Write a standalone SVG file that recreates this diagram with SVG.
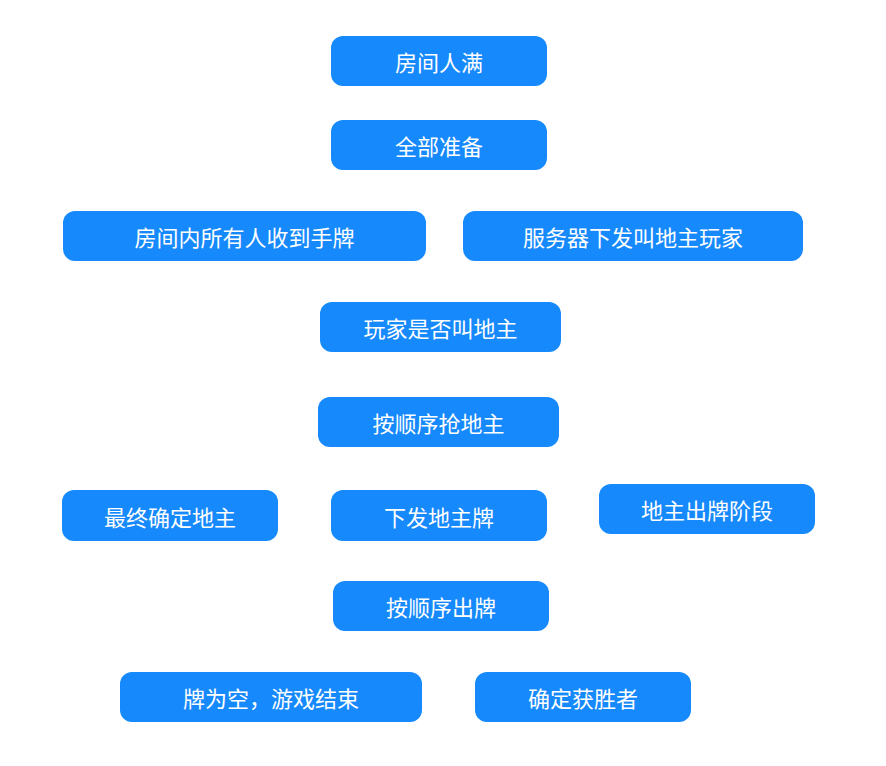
<svg xmlns="http://www.w3.org/2000/svg" width="886" height="766" viewBox="0 0 886 766">
<style>
.n rect{fill:#1689fc;}
.n text{fill:#fff;font-family:"Noto Sans CJK SC","Noto Sans",sans-serif;font-size:22px;text-anchor:middle;dominant-baseline:central;}
</style>
<rect width="886" height="766" fill="#fff"/>
<g id="connectors"></g>
<g id="n1" class="n"><rect x="331" y="36" width="216" height="50" rx="12"/><text x="439" y="61">房间人满</text></g>
<g id="n2" class="n"><rect x="331" y="120" width="216" height="50" rx="12"/><text x="439" y="145">全部准备</text></g>
<g id="n3" class="n"><rect x="63" y="211" width="363" height="50" rx="12"/><text x="244.5" y="236">房间内所有人收到手牌</text></g>
<g id="n4" class="n"><rect x="463" y="211" width="340" height="50" rx="12"/><text x="633" y="236">服务器下发叫地主玩家</text></g>
<g id="n5" class="n"><rect x="320" y="302" width="241" height="50" rx="12"/><text x="440.5" y="327">玩家是否叫地主</text></g>
<g id="n6" class="n"><rect x="318" y="397" width="241" height="50" rx="12"/><text x="438.5" y="422">按顺序抢地主</text></g>
<g id="n7" class="n"><rect x="62" y="490" width="216" height="51" rx="12"/><text x="170" y="515.5">最终确定地主</text></g>
<g id="n8" class="n"><rect x="331" y="490" width="216" height="51" rx="12"/><text x="439" y="515.5">下发地主牌</text></g>
<g id="n9" class="n"><rect x="599" y="484" width="216" height="50" rx="12"/><text x="707" y="509">地主出牌阶段</text></g>
<g id="n10" class="n"><rect x="333" y="581" width="216" height="50" rx="12"/><text x="441" y="606">按顺序出牌</text></g>
<g id="n11" class="n"><rect x="120" y="672" width="302" height="50" rx="12"/><text x="271" y="697">牌为空，游戏结束</text></g>
<g id="n12" class="n"><rect x="475" y="672" width="216" height="50" rx="12"/><text x="583" y="697">确定获胜者</text></g>
</svg>
